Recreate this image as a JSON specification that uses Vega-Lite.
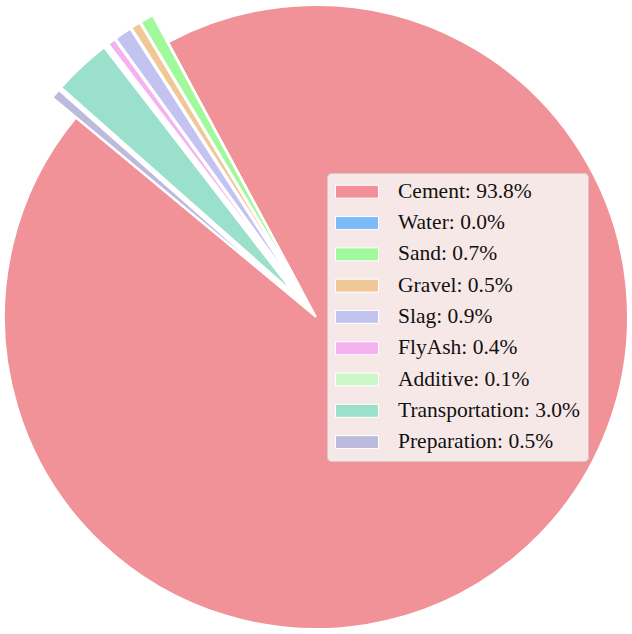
{
  "$schema": "https://vega.github.io/schema/vega-lite/v6.json",
  "width": 632,
  "height": 634,
  "padding": 0,
  "autosize": "none",
  "background": "white",
  "data": {
    "values": [
      {"idx": 0, "name": "Cement", "label": "Cement: 93.8%", "value": 93.8},
      {"idx": 1, "name": "Water", "label": "Water: 0.0%", "value": 0.0},
      {"idx": 2, "name": "Sand", "label": "Sand: 0.7%", "value": 0.7},
      {"idx": 3, "name": "Gravel", "label": "Gravel: 0.5%", "value": 0.5},
      {"idx": 4, "name": "Slag", "label": "Slag: 0.9%", "value": 0.9},
      {"idx": 5, "name": "FlyAsh", "label": "FlyAsh: 0.4%", "value": 0.4},
      {"idx": 6, "name": "Additive", "label": "Additive: 0.1%", "value": 0.1},
      {"idx": 7, "name": "Transportation", "label": "Transportation: 3.0%", "value": 3.0},
      {"idx": 8, "name": "Preparation", "label": "Preparation: 0.5%", "value": 0.5}
    ]
  },
  "mark": {
    "type": "arc",
    "outerRadius": 312,
    "stroke": "white",
    "strokeWidth": 2,
    "xOffset": {"expr": "datum.idx == 0 ? 0 : 31*sin((scale('theta', datum.value_start) + scale('theta', datum.value_end))/2)"},
    "yOffset": {"expr": "datum.idx == 0 ? 0 : -31*cos((scale('theta', datum.value_start) + scale('theta', datum.value_end))/2)"}
  },
  "encoding": {
    "theta": {
      "field": "value",
      "type": "quantitative",
      "stack": true,
      "scale": {"range": [5.4053, 11.6885], "nice": false, "zero": true}
    },
    "order": {"field": "idx", "sort": "descending"},
    "color": {
      "field": "label",
      "type": "nominal",
      "scale": {
        "domain": ["Cement: 93.8%", "Water: 0.0%", "Sand: 0.7%", "Gravel: 0.5%", "Slag: 0.9%", "FlyAsh: 0.4%", "Additive: 0.1%", "Transportation: 3.0%", "Preparation: 0.5%"],
        "range": ["#F09297", "#7BBCF8", "#A0FA9C", "#F0C796", "#C3C3F2", "#F4B3F0", "#CBF7CB", "#9BE0CB", "#BDBBDD"]
      },
      "legend": {
        "title": null,
        "orient": "none",
        "legendX": 327,
        "legendY": 173,
        "fillColor": "#F7E8E8",
        "strokeColor": "#D8C8C9",
        "cornerRadius": 4,
        "padding": 8,
        "symbolType": "M-1,-0.3H1V0.3H-1Z",
        "symbolSize": 1849,
        "symbolStrokeColor": "white",
        "symbolStrokeWidth": 1,
        "symbolOpacity": 1,
        "labelFont": "Liberation Serif",
        "labelFontSize": 21.5,
        "labelColor": "#111111",
        "labelOffset": 19,
        "labelLimit": 400,
        "clipHeight": 21.4,
        "rowPadding": 8.3
      }
    }
  }
}
